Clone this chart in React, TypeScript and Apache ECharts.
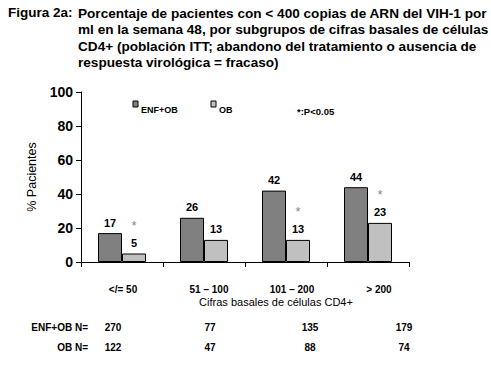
import React, { useEffect, useRef } from "react";
import * as echarts from "echarts";

const categories = ["</= 50", "51 – 100", "101 – 200", "> 200"];
const seriesNames = ["ENF+OB", "OB"];
const enfOb = [17, 26, 42, 44];
const ob = [5, 13, 13, 23];
const significant = [true, false, true, true];
const nEnfOb = [270, 77, 135, 179];
const nOb = [122, 47, 88, 74];
const titleLines = [
  "Porcentaje de pacientes con < 400 copias de ARN del VIH-1 por",
  "ml en la semana 48, por subgrupos de cifras basales de células",
  "CD4+ (población ITT; abandono del tratamiento o ausencia de",
  "respuesta virológica = fracaso)",
];

const FONT = "'Liberation Sans', Arial, sans-serif";
const DARK = "#808080";
const LIGHT = "#c0c0c0";
const labelShift = [1, 5, 6, 11];
const nColX = [113, 210, 310, 404];
const legendX = [133, 211];

export default function App() {
  const ref = useRef<HTMLDivElement>(null);
  useEffect(() => {
    document.body.style.margin = "0";
    const chart = echarts.init(ref.current!, null, { renderer: "svg" });
    const rich: any = {};
    labelShift.forEach((s, i) => {
      rich["c" + i] = { padding: [0, 0, 0, s * 2], fontSize: 10, fontWeight: "bold", fontFamily: FONT, color: "#000" };
    });
    const graphics: any[] = [];
    graphics.push({
      type: "text", left: 8, top: 5,
      style: { text: "Figura 2a:", font: `bold 13.5px ${FONT}`, fill: "#000" },
    });
    graphics.push({
      type: "text", left: 78, top: 5,
      style: { text: titleLines.join("\n"), font: `bold 13.6px ${FONT}`, lineHeight: 16.5, fill: "#000" },
    });
    // legend
    [DARK, LIGHT].forEach((c, i) => {
      graphics.push({
        type: "rect", shape: { x: legendX[i], y: 101, width: 5, height: 6 },
        style: { fill: c, stroke: "#000", lineWidth: 1 },
      });
      graphics.push({
        type: "text", x: legendX[i] + 8, y: 110,
        style: { text: seriesNames[i], font: `bold 9px ${FONT}`, fill: "#000", verticalAlign: "middle" },
      });
    });
    graphics.push({
      type: "text", x: 297, y: 111,
      style: { text: "*:P<0.05", font: `bold 9.5px ${FONT}`, fill: "#000", verticalAlign: "middle" },
    });
    graphics.push({
      type: "text", x: 88, y: 327,
      style: { text: "ENF+OB N=", font: `bold 10px ${FONT}`, fill: "#000", align: "right", verticalAlign: "middle" },
    });
    graphics.push({
      type: "text", x: 88, y: 347,
      style: { text: "OB N=", font: `bold 10px ${FONT}`, fill: "#000", align: "right", verticalAlign: "middle" },
    });
    nEnfOb.forEach((v, i) => {
      graphics.push({
        type: "text", x: nColX[i], y: 327,
        style: { text: String(v), font: `bold 10px ${FONT}`, fill: "#000", align: "center", verticalAlign: "middle" },
      });
    });
    nOb.forEach((v, i) => {
      graphics.push({
        type: "text", x: nColX[i], y: 347,
        style: { text: String(v), font: `bold 10px ${FONT}`, fill: "#000", align: "center", verticalAlign: "middle" },
      });
    });

    chart.setOption({
      animation: false,
      backgroundColor: "#fff",
      textStyle: { fontFamily: FONT },
      grid: { left: 81, right: 82, top: 92, bottom: 119 },
      xAxis: {
        type: "category", data: categories,
        axisLine: { lineStyle: { color: "#000", width: 1 } },
        axisTick: { show: true, length: 5, lineStyle: { color: "#000" } },
        axisLabel: {
          margin: 22, interval: 0,
          formatter: (v: string, i: number) => `{c${i}|${v}}`,
          rich,
        },
        name: "Cifras basales de células CD4+",
        nameLocation: "middle", nameGap: 34,
        nameTextStyle: { fontSize: 11, color: "#000", fontFamily: FONT, padding: [0, 0, 0, 62] },
      },
      yAxis: {
        type: "value", min: 0, max: 100, interval: 20,
        splitLine: { show: false },
        axisLine: { show: true, lineStyle: { color: "#000", width: 1 } },
        axisTick: { show: true, length: 5, lineStyle: { color: "#000" } },
        axisLabel: { fontSize: 14, fontWeight: "bold", color: "#000", margin: 8, fontFamily: FONT },
        name: "% Pacientes", nameLocation: "middle", nameGap: 42,
        nameTextStyle: { fontSize: 12.5, color: "#000", fontFamily: FONT },
      },
      series: [
        {
          name: seriesNames[0], type: "bar", data: enfOb, barWidth: 24, barGap: "0%",
          itemStyle: { color: DARK, borderColor: "#000", borderWidth: 1 },
          label: { show: true, position: "top", distance: 5, fontSize: 11, fontWeight: "bold", color: "#000", fontFamily: FONT },
        },
        {
          name: seriesNames[1], type: "bar", data: ob, barWidth: 24,
          itemStyle: { color: LIGHT, borderColor: "#000", borderWidth: 1 },
          label: {
            show: true, position: "top", distance: 4,
            formatter: (p: any) => (significant[p.dataIndex] ? `{s|*}\n{v|${p.value}}` : `{v|${p.value}}`),
            rich: {
              s: { fontSize: 13, color: "#888", lineHeight: 22, fontFamily: FONT },
              v: { fontSize: 11, fontWeight: "bold", color: "#000", lineHeight: 13, fontFamily: FONT },
            },
          },
        },
      ],
      graphic: graphics,
    });
    return () => chart.dispose();
  }, []);
  return <div ref={ref} style={{ width: 491, height: 381 }} />;
}
